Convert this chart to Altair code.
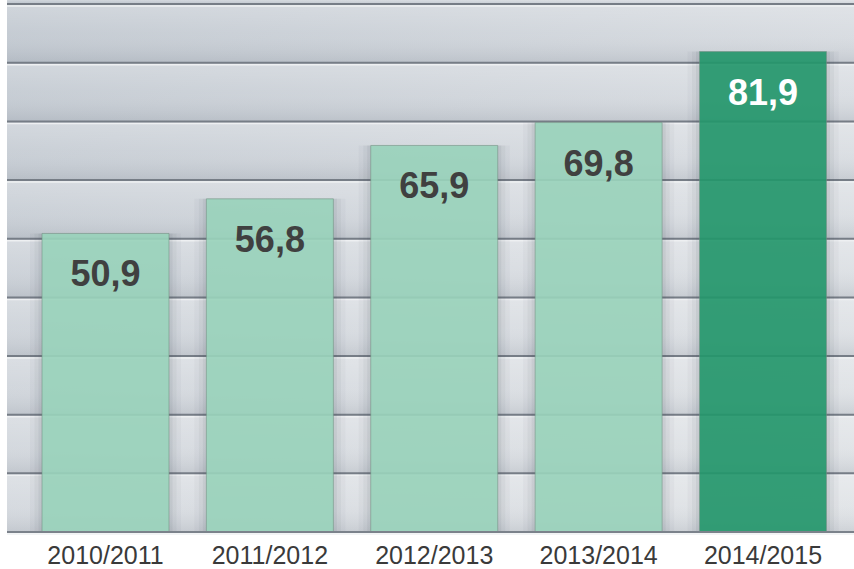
import altair as alt
import pandas as pd

# Data
seasons = ["2010/2011", "2011/2012", "2012/2013", "2013/2014", "2014/2015"]
values = [50.9, 56.8, 65.9, 69.8, 81.9]
labels = ["50,9", "56,8", "65,9", "69,8", "81,9"]
highlight = [False, False, False, False, True]
grid_levels = [0, 10, 20, 30, 40, 50, 60, 70, 80, 90]

W, H = 847, 532
YMAX = 90.7

df = pd.DataFrame({"season": seasons, "value": values, "label": labels, "hl": highlight})
bands = pd.DataFrame({"lo": grid_levels, "hi": [min(g + 10, YMAX) for g in grid_levels]})
grid = pd.DataFrame({"g": grid_levels})

yscale = alt.Scale(domain=[0, YMAX], nice=False, zero=True)
xscale = alt.Scale(domain=seasons, paddingInner=0.227, paddingOuter=0.19, align=0.56)

# background base (diagonal light)
base_bg = alt.Chart(pd.DataFrame({"a": [0]})).mark_rect(
    color={"gradient": "linear", "x1": 0, "y1": 0, "x2": 1, "y2": 1,
           "stops": [{"offset": 0, "color": "#c1c8d0"},
                     {"offset": 0.55, "color": "#d8dce1"},
                     {"offset": 1, "color": "#e2e5e8"}]}
).encode(x=alt.value(0), x2=alt.value(W), y=alt.value(0), y2=alt.value(H))

band_rects = alt.Chart(bands).mark_rect(
    color={"gradient": "linear", "x1": 0, "y1": 0, "x2": 0, "y2": 1,
           "stops": [{"offset": 0, "color": "rgba(255,255,255,0.25)"},
                     {"offset": 0.5, "color": "rgba(255,255,255,0.05)"},
                     {"offset": 1, "color": "rgba(80,90,105,0.14)"}]}
).encode(
    x=alt.value(0), x2=alt.value(W),
    y=alt.Y("hi:Q", scale=yscale, axis=None),
    y2="lo:Q",
)

grid_light = alt.Chart(grid).mark_rule(color="#eef0f2", strokeWidth=1.5, yOffset=2).encode(
    x=alt.value(0), x2=alt.value(W), y=alt.Y("g:Q", scale=yscale, axis=None)
)
grid_dark = alt.Chart(grid).mark_rule(color="#767d86", strokeWidth=2).encode(
    x=alt.value(0), x2=alt.value(W), y=alt.Y("g:Q", scale=yscale, axis=None)
)

xenc = alt.X("season:N", scale=xscale, sort=seasons,
             axis=alt.Axis(title=None, labelAngle=0, domain=False, ticks=False,
                           labelFont="Liberation Sans", labelFontSize=25,
                           labelColor="#3a3a3a", labelPadding=11))

shadows = []
for extra, op in [(24, 0.035), (15, 0.05), (7, 0.07)]:
    shadows.append(
        alt.Chart(df).mark_bar(size=127 + extra, color="#3c4550", opacity=op).encode(
            x=xenc, y=alt.Y("value:Q", scale=yscale, axis=None), y2=alt.datum(0)
        )
    )

bars = alt.Chart(df).mark_bar(size=127, opacity=0.9, stroke="#6f8f80", strokeWidth=1, strokeOpacity=0.6).encode(
    x=xenc,
    y=alt.Y("value:Q", scale=yscale, axis=None),
    color=alt.Color("hl:N", scale=alt.Scale(domain=[False, True], range=["#9bd5bd", "#23986c"]), legend=None),
)

text = alt.Chart(df).mark_text(
    font="Liberation Sans", fontWeight="bold", fontSize=36, baseline="alphabetic", dy=53, align="center"
).encode(
    x=xenc,
    y=alt.Y("value:Q", scale=yscale, axis=None),
    text="label:N",
    color=alt.Color("hl:N", scale=alt.Scale(domain=[False, True], range=["#404040", "#ffffff"]), legend=None),
)

axis_line = alt.Chart(pd.DataFrame({"a": [0]})).mark_rule(color="#7b828b", strokeWidth=2).encode(
    x=alt.value(0), x2=alt.value(W), y=alt.value(H)
)

chart = alt.layer(base_bg, band_rects, grid_light, grid_dark, *shadows, bars, text, axis_line).resolve_scale(
    color="independent"
).properties(
    width=W, height=H,
    autosize=alt.AutoSizeParams(type="none"),
    padding={"left": 7, "top": 0, "right": 0, "bottom": 37},
).configure_view(stroke=None).configure(background="white")

chart.save("out.html", embed_options={"renderer": "svg", "actions": False})
